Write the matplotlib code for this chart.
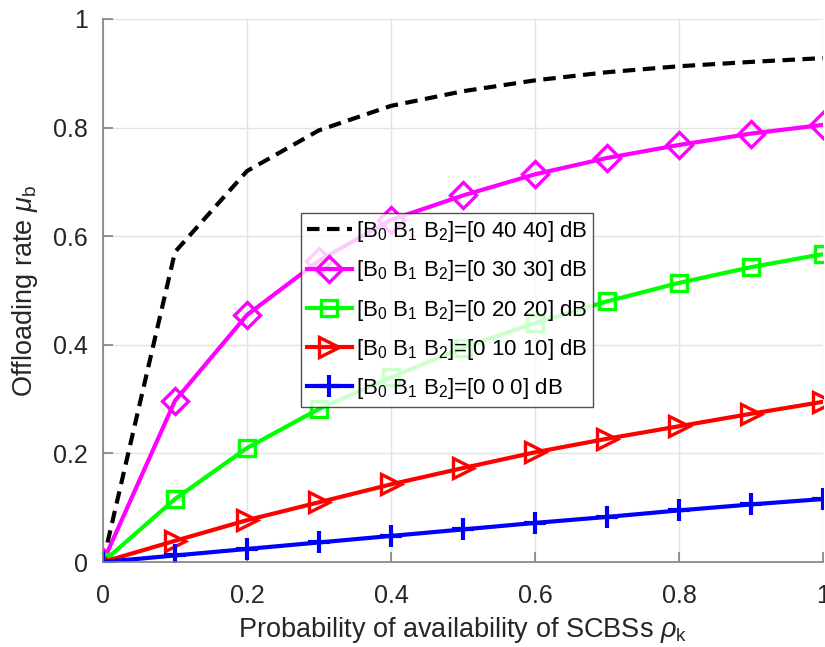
import numpy as np
import matplotlib
matplotlib.use("Agg")
import matplotlib.pyplot as plt

plt.rcParams['font.family'] = ['Liberation Sans', 'DejaVu Sans']
plt.rcParams['mathtext.fontset'] = 'custom'
plt.rcParams['mathtext.rm'] = 'Liberation Sans'
plt.rcParams['mathtext.it'] = 'Liberation Sans:italic'

rho = [0, 0.1, 0.2, 0.3, 0.4, 0.5, 0.6, 0.7, 0.8, 0.9, 1.0]

mu_40 = [0, 0.571, 0.72, 0.795, 0.84, 0.867, 0.887, 0.902, 0.913, 0.921, 0.928]
mu_30 = [0, 0.297, 0.455, 0.555, 0.63, 0.675, 0.714, 0.744, 0.768, 0.789, 0.805]
mu_20 = [0, 0.116, 0.21, 0.282, 0.34, 0.395, 0.44, 0.48, 0.514, 0.543, 0.567]
mu_10 = [0, 0.039, 0.077, 0.11, 0.143, 0.173, 0.202, 0.227, 0.25, 0.273, 0.295]
mu_0 = [0, 0.012, 0.024, 0.036, 0.048, 0.06, 0.072, 0.083, 0.095, 0.106, 0.116]

labels = [r'[B$_0$ B$_1$ B$_2$]=[0 40 40] dB',
          r'[B$_0$ B$_1$ B$_2$]=[0 30 30] dB',
          r'[B$_0$ B$_1$ B$_2$]=[0 20 20] dB',
          r'[B$_0$ B$_1$ B$_2$]=[0 10 10] dB',
          r'[B$_0$ B$_1$ B$_2$]=[0 0 0] dB']

fig = plt.figure(figsize=(8.25, 6.47), dpi=100)
ax = fig.add_axes([103/825, 1 - 562/647, 720/825, 543/647])

lw = 3.0
ax.plot(rho, mu_40, color='black', lw=lw, dashes=(3.0, 1.8), label=labels[0])
ax.plot(rho, mu_30, color='#ff00ff', lw=lw, marker='D', ms=13, mfc='none',
        mew=2.4, label=labels[1])
ax.plot(rho, mu_20, color='#00ff00', lw=lw, marker='s', ms=11, mfc='none',
        mew=2.4, label=labels[2])
ax.plot(rho, mu_10, color='#ff0000', lw=lw, marker='>', ms=15, mfc='none',
        mew=2.4, label=labels[3])
ax.plot(rho, mu_0, color='#0000ff', lw=lw, marker='+', ms=16, mew=3.0,
        label=labels[4])

ax.set_xlim(0, 1)
ax.set_ylim(0, 1)
ax.set_xticks([0, 0.2, 0.4, 0.6, 0.8, 1])
ax.set_xticklabels(['0', '0.2', '0.4', '0.6', '0.8', '1'])
ax.set_yticks([0, 0.2, 0.4, 0.6, 0.8, 1])
ax.set_yticklabels(['0', '0.2', '0.4', '0.6', '0.8', '1'])

ax.grid(True, color='#e3e3e3', lw=1.0)
ax.set_axisbelow(True)
for s in ['top', 'right']:
    ax.spines[s].set_visible(False)
for s in ['left', 'bottom']:
    ax.spines[s].set_color('#808080')
    ax.spines[s].set_linewidth(1.2)
ax.tick_params(direction='in', length=7, width=1.2, color='#808080',
               labelsize=18, labelcolor='#262626')
ax.tick_params(axis='x', pad=16)
ax.tick_params(axis='y', pad=11)

ax.set_xlabel(r'Probability of availability of SCBSs $\rho_\mathregular{k}$',
              fontsize=19.5, color='#262626', labelpad=5)
ax.set_ylabel(r'Offloading rate $\mu_\mathregular{b}$', fontsize=19.5,
              color='#262626', labelpad=9)

leg = ax.legend(loc='upper left', bbox_to_anchor=(0.275, 0.643), fontsize=16,
                frameon=True, fancybox=False, edgecolor='#262626',
                handlelength=2.0, borderpad=0.28, labelspacing=0.64,
                handletextpad=0.18, borderaxespad=0)
leg.get_frame().set_linewidth(1.0)

fig.savefig('out.png', dpi=100)
